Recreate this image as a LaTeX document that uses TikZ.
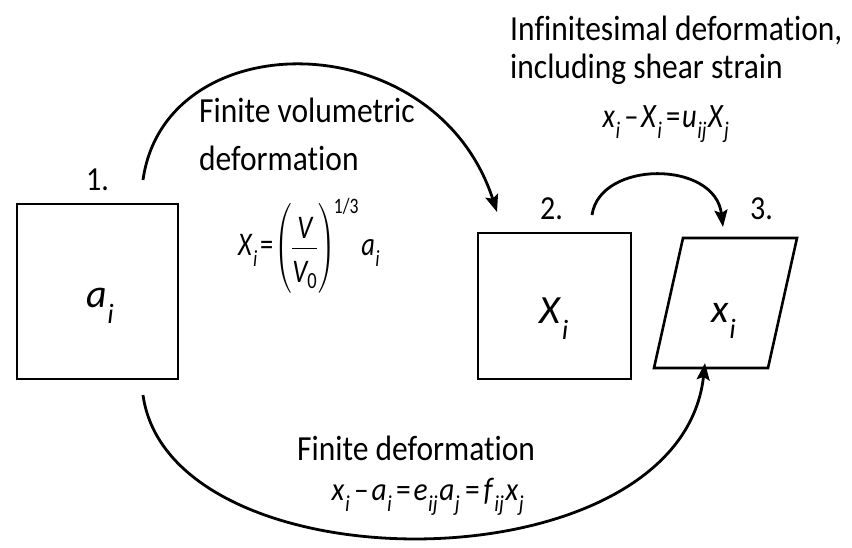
\documentclass[tikz,border=0pt]{standalone}
\usepackage{amsmath}
\usepackage{fontspec}
\setmainfont{Carlito}[Ligatures=NoCommon]
\usetikzlibrary{arrows.meta}
\newcommand\ixs[2]{\textit{#1}\kern0.5pt\raisebox{-0.14em}{\textsubscript{\textit{#2}}}}
\newcommand\fs[2]{\fontsize{#1}{#2}\selectfont}
\newcommand\vs[1]{\scalebox{1}[1.12]{#1}}
\begin{document}
\begin{tikzpicture}[x=1pt,y=-1pt,
  box/.style={draw,line width=2.6pt},
  conn/.style={line width=2.8pt,-{Stealth[length=17pt,width=13pt,inset=3pt]}},
  ttl/.style={font=\fs{31.5}{36}, inner sep=0pt, anchor=base west},
  lbl/.style={font=\fs{30}{34}, inner sep=0pt, anchor=base west},
  eqn/.style={font=\fs{31}{36}, inner sep=0pt, anchor=base},
  var/.style={font=\fs{40}{46}, inner sep=0pt, anchor=base west}]
\useasboundingbox (0,0) rectangle (852,547);
% boxes
\draw[box] (17,204) rectangle (178,379);
\node[var] (a) at (86,307) {\ixs{a}{i}};
\draw[box] (478,233) rectangle (631,379);
\node[var] (X) at (539,323) {\ixs{X}{i}};
\draw[box,line join=miter] (683,238) -- (797,238) -- (768,368) -- (654,368) -- cycle;
\node[var] (x) at (711,322) {\ixs{x}{i}};
% step labels
\node[lbl] (n1) at (86,190) {\vs{1.}};
\node[lbl] (n2) at (540,219) {\vs{2.}};
\node[lbl] (n3) at (750,219) {\vs{3.}};
% arrow end points
\coordinate (s1) at (143,180);
\coordinate (e1) at (497,212);
\coordinate (s2) at (592,215);
\coordinate (e2) at (723,227);
\coordinate (s3) at (143,395);
\coordinate (e3) at (705,363);
\draw[conn] (s1) .. controls (165,22) and (435,22) .. (e1);
\draw[conn] (s2) .. controls (600,160) and (715,160) .. (e2);
\draw[conn] (s3) .. controls (170,590) and (680,590) .. (e3);
% texts
\node[ttl] (t1a) at (199,122) {\vs{Finite volumetric}};
\node[ttl] (t1b) at (199,170) {\vs{deformation}};
\node[eqn,font=\fs{33}{36}] (q1) at (309,255) {\scalebox{0.8}[1.0]{\ixs{X}{i}\kern3pt{=}\kern1pt$\left(\rule[-34pt]{0pt}{80pt}\dfrac{\textit{V}\rule[-6pt]{0pt}{6pt}}{\rule{0pt}{30pt}\textit{V}_{\text{0}}}\right)^{\kern-2pt\text{\fs{22}{24}1/3}}$\kern3pt\ixs{a}{i}}};
\node[ttl] (t2a) at (510,40) {\vs{Infinitesimal deformation,}};
\node[ttl] (t2b) at (510,78) {\vs{including shear strain}};
\node[eqn] (q2) at (666,127) {\scalebox{0.92}[1.1]{\ixs{x}{i}\kern4pt--\kern3pt\ixs{X}{i}\kern4pt=\kern2pt\ixs{u}{ij}\kern1pt\ixs{X}{j}}};
\node[ttl] (t3) at (297,460) {\vs{Finite deformation}};
\node[eqn] (q3) at (428,500) {\scalebox{0.95}[1.05]{\ixs{x}{i}\kern4pt--\kern3pt\ixs{a}{i}\kern4pt=\kern3pt\ixs{e}{ij}\kern1pt\ixs{a}{j}\kern5pt=\kern4pt\ixs{f}{ij}\kern1pt\ixs{x}{j}}};
\end{tikzpicture}
\end{document}
